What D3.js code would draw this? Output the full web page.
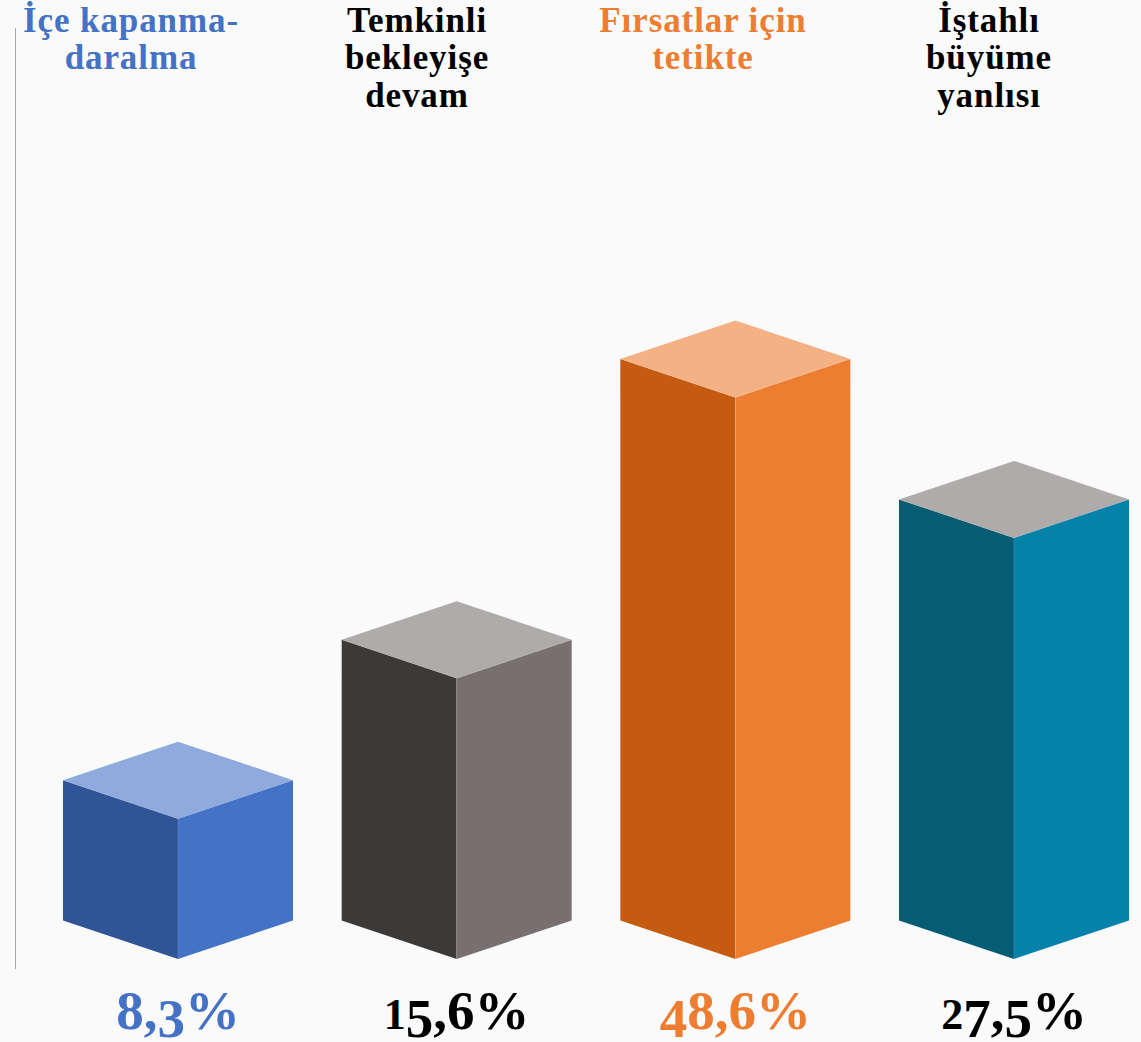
<!DOCTYPE html>
<html>
<head>
<meta charset="utf-8">
<script src="https://d3js.org/d3.v7.min.js"></script>
<style>
  html, body { margin: 0; padding: 0; background: #fafafa; }
  svg { display: block; }
  text { font-family: "Liberation Serif", serif; font-weight: bold; text-anchor: middle; }
</style>
</head>
<body>
<svg id="chart"></svg>
<script>
const categories = ['İçe kapanma-daralma', 'Temkinli bekleyişe devam', 'Fırsatlar için tetikte', 'İştahlı büyüme yanlısı'];
const titleLines = [['İçe kapanma-', 'daralma'], ['Temkinli', 'bekleyişe', 'devam'], ['Fırsatlar için', 'tetikte'], ['İştahlı', 'büyüme', 'yanlısı']];
const shares = ['8,3%', '15,6%', '48,6%', '27,5%'];
// bar heights in the picture follow the rank of the share, not the share itself
const ranks = [1, 2, 4, 3];
const leftColors = ['#2f5597', '#3b3a38', '#c55a11', '#055d73'];
const rightColors = ['#4472c4', '#767170', '#ed7d31', '#0482aa'];
const topColors = ['#8faadc', '#afabaa', '#f4b183', '#afabaa'];
const labelColors = ['#4472c4', '#000000', '#ed7d31', '#000000'];

const width = 1141;
const height = 1042;
const halfW = 115;
const depth = 38.5;
const baseY = 959;

const svg = d3.select('#chart').attr('width', width).attr('height', height);

const x = d3.scalePoint().domain(categories).range([178, 1014]);
const xTitle = d3.scalePoint().domain(categories).range([131, 989]);
const h = d3.scaleLinear().domain([0, 4]).range([0, 561.5]);

// value axis line, no ticks
svg.append('line')
  .attr('x1', 15.5).attr('x2', 15.5)
  .attr('y1', 28).attr('y2', 969)
  .attr('stroke', '#a6a6a6')
  .attr('stroke-width', 1);

const bars = svg.selectAll('g.bar')
  .data(categories)
  .enter()
  .append('g')
  .attr('class', 'bar')
  .attr('transform', d => `translate(${x(d)},0)`);

const leftPath = (d, i) => {
  const top = baseY - h(ranks[i]);
  return `M${-halfW},${baseY - depth}L0,${baseY}L0,${top}L${-halfW},${top - depth}Z`;
};
const rightPath = (d, i) => {
  const top = baseY - h(ranks[i]);
  return `M${halfW},${baseY - depth}L0,${baseY}L0,${top}L${halfW},${top - depth}Z`;
};
const topPath = (d, i) => {
  const top = baseY - h(ranks[i]);
  return `M0,${top}L${halfW},${top - depth}L0,${top - 2 * depth}L${-halfW},${top - depth}Z`;
};

bars.append('path').attr('d', leftPath).attr('fill', (d, i) => leftColors[i]);
bars.append('path').attr('d', rightPath).attr('fill', (d, i) => rightColors[i]);
bars.append('path').attr('d', topPath).attr('fill', (d, i) => topColors[i]);

// thin light seam on the front edge
bars.append('line')
  .attr('x1', 0).attr('x2', 0)
  .attr('y1', baseY)
  .attr('y2', (d, i) => baseY - h(ranks[i]))
  .attr('stroke', '#ffffff')
  .attr('stroke-opacity', 0.2)
  .attr('stroke-width', 0.75);

// titles
svg.selectAll('text.title')
  .data(categories)
  .enter()
  .append('text')
  .attr('class', 'title')
  .attr('font-size', 35)
  .attr('letter-spacing', 0.9)
  .attr('fill', (d, i) => labelColors[i])
  .each(function(d, i) {
    d3.select(this).selectAll('tspan')
      .data(titleLines[i])
      .enter()
      .append('tspan')
      .attr('x', xTitle(d))
      .attr('y', (t, j) => 31.5 + j * 37.75)
      .text(t => t);
  });

// Shares. No old-style figures installed, so nudge the digits the way they sit in the original.
const digitDrop = { '3': 8, '4': 8, '5': 8, '7': 8 };
const digitSmall = { '1': 0.8, '2': 0.8 };

svg.selectAll('text.share')
  .data(categories)
  .enter()
  .append('text')
  .attr('class', 'share')
  .attr('x', d => x(d))
  .attr('y', 1029)
  .attr('font-size', 55)
  .attr('fill', (d, i) => labelColors[i])
  .each(function(d, i) {
    const label = d3.select(this);
    let prevDrop = 0;
    shares[i].split('').forEach(c => {
      const drop = digitDrop[c] || 0;
      label.append('tspan')
        .attr('dy', drop - prevDrop)
        .attr('font-size', 55 * (digitSmall[c] || 1))
        .text(c);
      prevDrop = drop;
    });
  });
</script>
</body>
</html>
